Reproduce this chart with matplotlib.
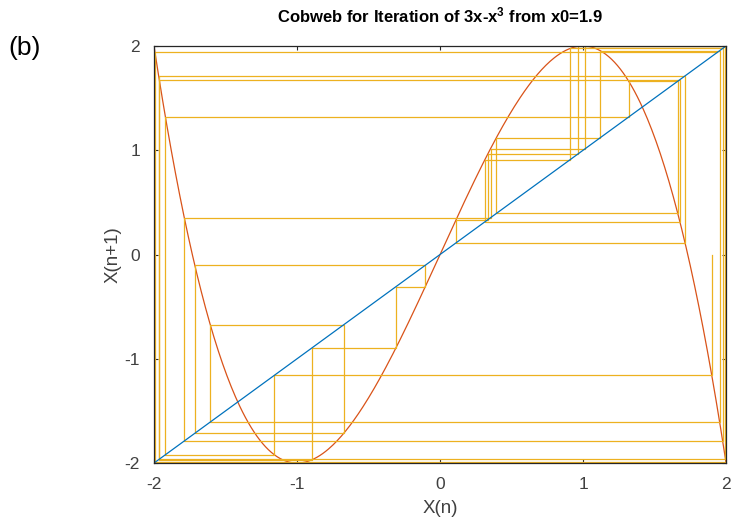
import numpy as np
import matplotlib
matplotlib.use('Agg')
import matplotlib.pyplot as plt

plt.rcParams['font.family'] = ['Liberation Sans', 'DejaVu Sans']
plt.rcParams['mathtext.default'] = 'regular'
plt.rcParams['axes.unicode_minus'] = False

# iterates of x -> 3x - x^3 starting at x0 = 1.9
iterates = [1.9, -1.159, -1.9201, 1.319, 1.6623, 0.3937, 1.1202, 1.9549, -1.6065,
            -0.6733, -1.7146, -0.1029, -0.3077, -0.8939, -1.9674, 1.7131, 0.1116,
            0.3333, 0.9628, 1.9959, -1.9632, 1.6772, 0.3134, 0.9093, 1.9761,
            -1.7882, 0.3533, 1.0158, 1.9992, -1.9932, 1.9394]
x_range = [-2, 2]
ticks = [-2, -1, 0, 1, 2]

c_diag = '#0072BD'
c_curve = '#D95319'
c_web = '#EDB120'

# cobweb path: start on the x axis, then vertical/horizontal steps
web_x = [iterates[0]]
web_y = [0]
for a, b in zip(iterates[:-1], iterates[1:]):
    web_x += [a, b]
    web_y += [b, b]

xs = np.linspace(x_range[0], x_range[1], 401)

fig = plt.figure(figsize=(7.34, 5.25), dpi=100)
ax = fig.add_axes([0.2098, 0.118, 0.7794, 0.7944])

ax.plot(xs, 3*xs - xs**3, color=c_curve, lw=0.9)
ax.plot(web_x, web_y, color=c_web, lw=0.9)
ax.plot(x_range, x_range, color=c_diag, lw=0.9)

ax.set_xlim(x_range)
ax.set_ylim(x_range)
ax.set_xticks(ticks)
ax.set_yticks(ticks)
ax.tick_params(direction='in', length=3, width=0.8, top=True, right=True,
               labelsize=12.5, colors='#262626', labelcolor='#404040')
ax.tick_params(axis='x', pad=10)
ax.tick_params(axis='y', pad=10)
for s in ax.spines.values():
    s.set_color('#262626')
    s.set_linewidth(0.9)

ax.set_xlabel('X(n)', fontsize=13.5, color='#404040', labelpad=6)
ax.set_ylabel('X(n+1)', fontsize=13.5, color='#404040', labelpad=2)
ax.set_title(r'Cobweb for Iteration of 3x-x$^{3}$ from x0=1.9', fontsize=12,
             fontweight='bold', pad=17)

fig.text(0.012, 0.895, '(b)', fontsize=19)

fig.savefig('out.png')
